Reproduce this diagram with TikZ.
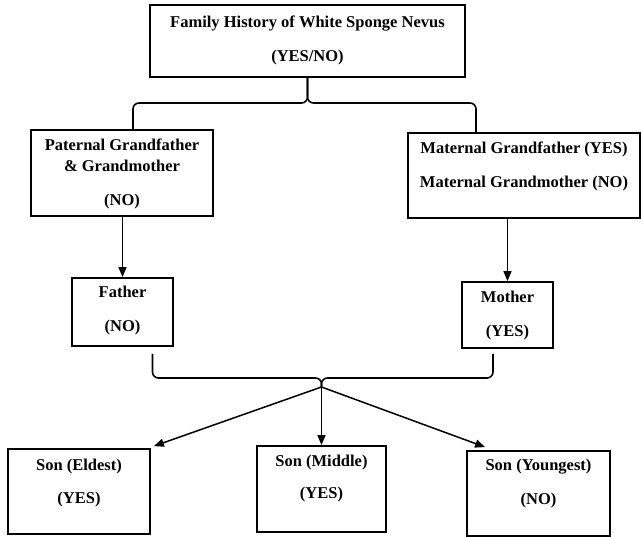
\documentclass[tikz,border=0pt]{standalone}
\usepackage{fontspec}
\setmainfont{Liberation Serif}
\usetikzlibrary{arrows.meta}

\tikzset{
  box/.style={draw, line width=1.8pt, inner sep=0pt},
  txt/.style={align=center, font=\bfseries\fontsize{16.5}{21}\selectfont},
  link/.style={line width=1.5pt, -{Triangle[length=10pt,width=8pt]}},
  brace/.style={line width=1.6pt, rounded corners=6pt},
}

\begin{document}
\begin{tikzpicture}[x=1pt, y=-1pt]
    \useasboundingbox (0,0) rectangle (641,537);

    \node[box, minimum width=315pt, minimum height=72pt] (top) at (307.5,41) {};
    \node[txt] (toptxt) at (307.5,40) {Family History of White Sponge Nevus\\[13pt](YES/NO)};

    \node[box, minimum width=182pt, minimum height=86pt] (patgp) at (122,173) {};
    \node[txt] (patgptxt) at (122,174) {Paternal Grandfather\\\& Grandmother\\[13pt](NO)};

    \node[box, minimum width=232pt, minimum height=85pt] (matgp) at (524,175.5) {};
    \node[txt] (matgptxt) at (524,166) {Maternal Grandfather (YES)\\[13pt]Maternal Grandmother (NO)};

    \node[box, minimum width=101pt, minimum height=68pt] (father) at (122.5,312) {};
    \node[txt] (fathertxt) at (122.5,310.5) {Father\\[13pt](NO)};

    \node[box, minimum width=91pt, minimum height=66pt] (mother) at (507.5,315) {};
    \node[txt] (mothertxt) at (507.5,315.5) {Mother\\[13pt](YES)};

    \node[box, minimum width=142pt, minimum height=85pt] (eldest) at (79,491.5) {};
    \node[txt] (eldesttxt) at (79,483.5) {Son (Eldest)\\[12pt](YES)};

    \node[box, minimum width=129pt, minimum height=86pt] (middle) at (321.5,489) {};
    \node[txt] (middletxt) at (321.5,479) {Son (Middle)\\[11pt](YES)};

    \node[box, minimum width=143pt, minimum height=85pt] (youngest) at (538.5,493.5) {};
    \node[txt] (youngesttxt) at (538.5,484) {Son (Youngest)\\[13pt](NO)};

    \coordinate (topfork) at (307.5,103);
    \coordinate (kidfork) at (321.5,378);
    \coordinate (kidtip) at (321.5,387);

    \draw[brace] ([xshift=11pt]patgp.north) |- (topfork) -- (top.south);
    \draw[brace] ([xshift=-48pt]matgp.north) |- (topfork) -- (top.south);

    \draw[link] (patgp.south -| father.north) -- (father.north);
    \draw[link] (matgp.south -| mother.north) -- (mother.north);

    \draw[brace] ([xshift=30pt,yshift=-7pt]father.south) |- (kidfork) -- (kidtip);
    \draw[brace] ([xshift=-14.5pt,yshift=-5pt]mother.south) |- (kidfork) -- (kidtip);

    \draw[link] (kidtip) -- ([xshift=3pt,yshift=2pt]eldest.north east);
    \draw[link] (kidtip) -- (middle.north);
    \draw[link] (kidtip) -- ([xshift=19pt,yshift=3pt]youngest.north west);
\end{tikzpicture}
\end{document}
